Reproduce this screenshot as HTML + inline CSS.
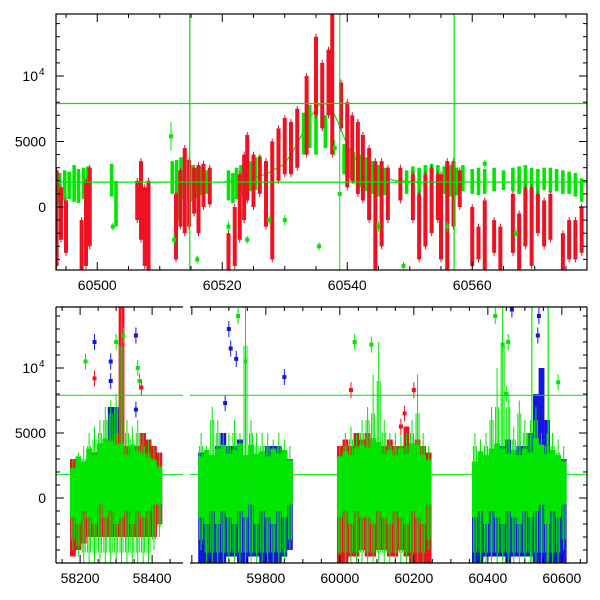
<!DOCTYPE html>
<html><head><meta charset="utf-8"><style>
html,body{margin:0;padding:0;background:#fff;}
svg{display:block;font-family:"Liberation Sans",sans-serif;}
</style></head><body>
<svg id="chart" width="600" height="600" viewBox="0 0 600 600">
<defs>
<clipPath id="clipT"><rect x="56" y="14" width="531" height="256"/></clipPath>
<clipPath id="clipB"><rect x="56" y="307" width="531" height="256"/></clipPath>
</defs>
<g id="topPanel"></g>
<g id="botPanel"></g>
</svg>
<script>
// ---- Top panel data (value in thousands) ----
const topGreenT  = [60494,60494.8,60495.5,60496.3,60497,60497.8,60498.5,60502.3,60503,60512,60512.7,60513.4,60514,60514.7,60515.3,60516,60516.7,60517.5,60521,60521.7,60522.3,60523,60523.8,60524.5,60525.3,60526,60527,60528,60529,60530,60531,60532,60533,60534,60535,60536.5,60539.5,60540.2,60541,60542,60543,60544,60545,60546,60548.5,60549.5,60550.5,60551.5,60552.5,60553.5,60554.5,60555.5,60556.5,60557.5,60558.5,60560,60561,60562,60563.5,60565,60566.5,60567.5,60568.5,60569.5,60570.5,60571.5,60572.5,60573.5,60574.5,60575.5,60576.5,60577.5];
const topGreenLo = [0.2,0.5,0.6,0.4,0.3,0.6,0.2,0.8,-1.5,1.0,-1,0.5,0.8,0.6,0.4,0.7,0.9,1.0,0.5,0.3,0.6,0.8,1.0,1.2,1.3,1.5,1.8,2.2,2.5,2.8,3.0,3.4,4.0,4.5,4.0,4.5,2.5,2.2,1.8,1.5,1.2,1.0,0.8,0.9,0.8,1.0,1.2,0.9,1.1,1.3,1.0,1.0,0.8,0.9,1.2,1.0,0.9,1.0,1.2,1.3,1.2,1.0,1.1,1.2,1.0,1.3,1.1,1.2,1.0,1.0,0.8,0.4];
const topGreenHi = [2.6,2.8,2.7,3.2,2.9,3.0,3.1,3.3,2.0,3.5,3.6,3.8,4.0,3.5,3.2,3.0,3.1,2.8,2.8,2.6,3.0,3.2,3.4,3.5,3.8,3.9,3.5,4.5,5.2,5.5,6.0,6.6,7.2,7.8,7.5,7.0,4.8,4.5,4.2,4.0,3.8,3.5,3.2,3.0,2.9,2.8,3.1,3.0,3.2,3.3,3.2,3.1,3.2,3.0,3.2,2.9,3.0,2.9,3.0,2.8,3.0,3.1,3.2,3.0,2.9,3.0,3.0,2.9,2.8,2.7,2.6,2.2];
const topRedT  = [60493.5,60494.2,60495,60497.5,60498.2,60498.8,60506.4,60507,60507.6,60508.2,60512.6,60513.3,60514,60514.7,60515.5,60516.2,60517,60518,60521,60522,60522.8,60523.5,60524,60525,60526,60527,60528,60529,60530,60531,60532,60533.5,60535,60536,60537,60537.6,60539,60540,60540.8,60541.7,60542.5,60543.5,60544.5,60545.5,60546.5,60548.5,60550.5,60551.5,60552.5,60553.5,60554.5,60555,60556,60557,60558,60560,60561,60562,60563.5,60564.5,60566.5,60567.5,60568.5,60569.5,60570.5,60571.5,60572.5,60574.5,60575.5,60576.5,60577.5];
const topRedLo = [-4.5,-2.5,-3.5,-5,-4.5,-3,-1,-2.5,-4.5,-5,-4,-1.5,-2,-1.5,-0.5,-2,0,0.2,-5,-4.5,-2.5,-1,0.5,0,1,-1.5,-4,2,2.5,2.5,3,4,7,6,7,4,6,1.5,2,1,0.5,-1,-4.8,-3,-1,0.5,-1,-4,-3,-2,-1,-4,-5,-1.5,0,-4.5,-4,-4.8,-3.5,-5,-3.5,-4.8,-3,-4.5,-2,-3,-2.5,-5,-4,-4,-3.5];
const topRedHi = [2.8,1.5,0.5,-1,2.0,3.0,2.0,3.5,1.5,2.0,1,2.8,4.5,3.6,3.0,3.2,3.3,3.0,-2,0,2.5,4.0,5.5,4.0,3.8,3.5,5,6,6.8,6.5,7.5,10,13,11,12,14.7,9.5,8,7,6.5,5.5,4.5,3.5,3.5,3.0,3.0,2.5,1.0,2.5,3.0,2.5,2.5,3.5,3.5,2.8,0,-1.5,0.5,-1,-1.5,1,-0.5,1.5,1.5,1,0.5,1,-2,-1,-1,0];
const topPtT = [60502.5,60511.8,60512.3,60516,60521,60524,60527.5,60530,60535.5,60538.8,60538,60545,60549,60556,60562,60567];
const topPtV = [-1.5,5.4,-2.5,-4,-1.5,-2.5,-1,-1,-3,1,4.5,-1.5,-4.5,-1.5,3.3,-2];
const topPtE = [0.3,1.1,0.5,0.3,0.4,0.3,0.3,0.4,0.3,15,0.6,0.4,0.3,0.4,0.3,0.3];
const modelT = [60520,60524,60527,60530,60532,60534,60535.5,60536.5,60537.5,60538.5,60539.5,60540.5,60542,60544,60546,60548,60552];
const modelV = [1.9,2.1,2.5,3.3,4.8,6.8,7.8,7.9,7.5,6.5,5.3,4.3,3.2,2.6,2.2,2.0,1.9];

// ---- Bottom panel data (binned ranges, thousands) ----
const binT = [58180,58195,58210,58225,58240,58255,58270,58285,58300,58315,58330,58345,58360,58375,58390,58405,58420,
 59625,59640,59655,59670,59685,59700,59715,59730,59745,59760,59775,59790,59805,59820,59835,59850,59865,
 60000,60015,60030,60045,60060,60075,60090,60105,60120,60135,60150,60165,60180,60195,60210,60225,60240,
 60365,60380,60395,60410,60425,60440,60455,60470,60485,60500,60515,60530,60545,60560,60575,60590,60605];
const greenLo = [-1.5,-2,-1,-1.5,-2,-0.5,-1.5,-1,-2,-1.5,-1,-2,-1,-1.5,-1,-0.5,-0.5, -1.5,-2,-1,-2,-1,-1.5,-2,-1,-1.5,-0.5,-2,-1,-1.5,-2,-1,-1.5,-0.5, -1.5,-1,-2,-1,-1.5,-1.5,-2,-1,-1.5,-2,-1,-1.5,-2,-1,-1.5,-2,-0.5, -1.5,-1,-2,-1,-1.5,-2,-1,-1.5,-2,-1,-1.5,-1,-0.5,-2,-1,-1.5,-0.5];
const greenHi = [2.3,3.2,2.8,3.8,3.3,4.2,4.6,4.4,4.1,4.2,3.3,4.1,3.6,3.4,3.1,2.9,2.4, 3.2,3.7,3.3,3.8,4.1,3.4,3.7,4.2,3.3,4.1,3.4,3.6,3.2,3.8,3.4,3.7,2.9, 3.2,3.6,3.3,3.8,4.1,3.9,4.6,4.3,3.4,3.7,3.3,3.8,3.4,4.2,4.1,3.3,2.9, 2.8,3.6,3.3,3.8,4.2,3.8,3.4,3.7,3.3,3.8,3.5,4.6,4.1,3.4,3.7,3.3,2.8];
const greenMin = [-4,-4.5,-5,-5,-5,-5,-5,-5,-5,-5,-5,-5,-5,-5,-5,-4,-3, -4,-5,-5,-5,-5,-5,-5,-5,-5,-5,-5,-5,-5,-5,-5,-5,-4, -5,-5,-5,-5,-5,-5,-5,-5,-5,-5,-5,-5,-5,-5,-5,-5,-4, -5,-5,-5,-5,-5,-5,-5,-5,-5,-5,-5,-5,-5,-5,-5,-5,-4];
const greenMax = [3,3.5,4,5,5.5,6,7,7.5,8,14.7,6,5.5,6,5,4.5,4,3.5, 5,4,7,6,5,5,6,5,14.7,6,5,5,5,4.5,5,4.5,4, 4,5,5.5,5,6,7,9.5,12,6,5,5,5,5,6,9.5,5,4, 5,4.5,5,7,10,14.7,8,5.5,7.5,6,6,7,5,5,5,4.5,4];
const blueLo = [-3,-3,-3,-3,-3,-3,-3,-3,-3,-3,-3,-3,-3,-3,-3,-3,-2, -5,-5,-5,-5,-5,-4.5,-4.5,-5,-5,-4.5,-4.5,-5,-5,-5,-5,-4.5,-4, 0,0,0,0,0,0,0,0,0,0,0,0,0,0,0,0,0, -5,-5,-4.5,-4.5,-4.5,-4.5,-5,-4.5,-4.5,-4.5,-4.5,-5,-5,-5,-5,-5,-5];
const blueHi = [1,1.5,1.5,2,3,3.5,4,7,7,4,3,3,3,3,3,2,2, 3.5,3,3,4,5,4,4,4.5,3,3,3,3.5,4,4,4,3.5,3, 0,0,0,0,0,0,0,0,0,0,0,0,0,0,0,0,0, 2,2.5,3,3,3.5,4,4.5,3.5,4,4,5,8,10,6,3.5,3,3];
const redLo = [-4.5,-4,-3.5,-3,-3,-3,-3,-3,-3,-3,-3,-3,-3,-3,-3,-3,-2, 0,0,0,0,0,0,0,0,0,0,0,0,0,0,0,0,0, -5,-5,-4.5,-4.5,-4,-4.5,-4.5,-4,-4,-4.5,-4.5,-4,-4.5,-5,-5,-5,-5, 0,0,0,0,0,0,0,0,0,0,0,0,0,0,0,0,0];
const redHi = [3,2.5,2.5,3,3.5,4,4,4.5,5,14.7,4,4,4,5,4.5,4,3.5, 0,0,0,0,0,0,0,0,0,0,0,0,0,0,0,0,0, 4,4.5,4,5,4.5,5,4.5,3.5,4,4.5,4,4,5.5,4,4.5,4,3.5, 0,0,0,0,0,0,0,0,0,0,0,0,0,0,0,0,0];
const botPtT = [58215,58240,58240,58285,58285,58300,58320,58355,58355,58360,58365,58370, 59700,59705,59720,59850,59690,59745,59725, 60030,60040,60085,60200,60175,60165, 60420,60440,60455,60465,60450,60590,60535,60538];
const botPtV = [10.5,12,9.2,10.5,9,12,12.5,12.5,6.8,10,9,8.5, 13,11.5,10.7,9.3,7.3,10.5,14, 8.3,12,11.8,8.3,6.5,5.5, 14,11.8,12,14.5,8,8.9,12.5,14];
const botPtC = ["g","b","r","b","b","g","g","b","b","g","g","r", "b","b","b","b","b","g","g", "r","g","g","r","r","r", "g","g","g","b","g","g","b","b"];
const hLinesTop = [7.9,1.9];
const vLinesTop = [60514.8,60557.1];
const hLinesBot = [7.9,1.8];
const vLinesBot = [60519,60563];

const NS="http://www.w3.org/2000/svg";
const G="#00e600", R="#ee1122", B="#1515e0", RE="#b5204a";
function xT(t){return 56+(t-60493.4)*6.25;}
function yT(v){return 207-v*13.1;}
function xB(t){return t<59000?56+(t-58133)*0.36:190+(t-59595)*0.37;}
function yB(v){return 498-v*13;}
function mk(parent,tag,attrs){const e=document.createElementNS(NS,tag);for(const k in attrs)e.setAttribute(k,attrs[k]);parent.appendChild(e);return e;}

const topG=document.getElementById('topPanel'), botG=document.getElementById('botPanel');
const tData=mk(topG,'g',{'clip-path':'url(#clipT)'});


const bData=mk(botG,'g',{'clip-path':'url(#clipB)'});



topGreenT.forEach((t,i)=>{
  const r=mk(tData,'rect',{x:xT(t)-1.8,y:yT(topGreenHi[i]),width:3.6,height:Math.max(2,yT(topGreenLo[i])-yT(topGreenHi[i])),fill:G});
  
  
});
let d=modelT.map((t,i)=>(i?'L':'M')+xT(t)+' '+yT(modelV[i])).join(' ');
const ml=mk(tData,'path',{d:d,stroke:G,fill:'none','stroke-width':1.2});


topRedT.forEach((t,i)=>{
  const x=xT(t),y1=yT(topRedHi[i]),y2=yT(topRedLo[i]);
  const l=mk(tData,'line',{x1:x,x2:x,y1:y1-3,y2:y2+3,stroke:RE,'stroke-width':1});
  
  
  const r=mk(tData,'rect',{x:x-2,y:y1,width:4,height:Math.max(3,y2-y1),fill:R});
  
  
});
topPtT.forEach((t,i)=>{
  const x=xT(t),y=yT(topPtV[i]);
  const l=mk(tData,'line',{x1:x,x2:x,y1:yT(topPtV[i]+topPtE[i]),y2:yT(topPtV[i]-topPtE[i]),stroke:G,'stroke-width':1});
  
  
  const c=mk(tData,'rect',{x:x-2,y:y-2,width:4,height:4,fill:G});
  
  
});
hLinesTop.forEach(v=>{const l=mk(tData,'line',{x1:56,x2:587,y1:yT(v),y2:yT(v),stroke:G,'stroke-width':1.2});
  
  });
vLinesTop.forEach(t=>{const l=mk(tData,'line',{x1:xT(t),x2:xT(t),y1:14,y2:270,stroke:G,'stroke-width':1.2});
  
  });

function bins(lo,hi,col,w,name){
  binT.forEach((t,i)=>{
    if(lo[i]===0&&hi[i]===0)return;
    const y1=yB(hi[i]),y2=yB(lo[i]);
    const r=mk(bData,'rect',{x:xB(t)-w/2,y:y1,width:w,height:y2-y1,fill:col});
    
    
  });
}
bins(blueLo,blueHi,B,5.8,'blue-band');
bins(redLo,redHi,R,5.8,'red-band');
binT.forEach((t,i)=>{
  const x=xB(t);
  [-1.5,0,1.5].forEach(o=>{
    const l=mk(bData,'line',{x1:x+o,x2:x+o,y1:yB(greenMax[i]-(o===0?0:greenMax[i]>8?3:1)),y2:yB(greenMin[i]+(o===0?0:0.8)),stroke:G,'stroke-width':1});
    
    
  });
});
bins(greenLo,greenHi,G,5.8,'green-band');
botPtT.forEach((t,i)=>{
  const col=botPtC[i]==='g'?G:botPtC[i]==='r'?R:B;
  const x=xB(t),y=yB(botPtV[i]);
  const l=mk(bData,'line',{x1:x,x2:x,y1:y-8,y2:y+8,stroke:col,'stroke-width':1});
  
  
  const c=mk(bData,'rect',{x:x-2,y:y-2,width:4,height:4,fill:col});
  
  
});
hLinesBot.forEach(v=>{[[56,183],[190,587]].forEach(s=>{const l=mk(bData,'line',{x1:s[0],x2:s[1],y1:yB(v),y2:yB(v),stroke:G,'stroke-width':1});
  
  });});
vLinesBot.forEach(t=>{const l=mk(bData,'line',{x1:xB(t),x2:xB(t),y1:307,y2:563,stroke:G,'stroke-width':1.2});
  
  });

function line(p,x1,y1,x2,y2,w){return mk(p,'line',{x1,y1,x2,y2,stroke:'#000','stroke-width':w||1});}
function label(p,x,y,s,anchor,name){const e=mk(p,'text',{x,y,'font-size':14,'text-anchor':anchor||'middle',fill:'#000'});e.textContent=s;
  
  return e;}
function yAxis(p,yf){
  for(let v=-4;v<=14;v++){const y=yf(v);const L=v%5===0?8:4;line(p,56,y,56+L,y);line(p,587-L,y,587,y);}
  label(p,46,yf(0)+5,'0','end','y-tick-label');
  label(p,46,yf(5)+5,'5000','end','y-tick-label');
  label(p,38,yf(10)+5,'10','end','y-tick-label');
  const s=mk(p,'text',{x:39,y:yf(10)-1,'font-size':10,fill:'#000'});s.textContent='4';
  
  
}
const tf=mk(topG,'rect',{x:56,y:14,width:531,height:256,fill:'none',stroke:'#000','stroke-width':1.2});


yAxis(topG,yT);
for(let t=60495;t<=60575;t+=5){const x=xT(t);const L=t%20===0?8:4;line(topG,x,270,x,270-L);line(topG,x,14,x,14+L);}
[60500,60520,60540,60560].forEach(t=>label(topG,xT(t),290,String(t),'middle','x-tick-label'));
line(botG,56,307,183,307,1.2);line(botG,190,307,587,307,1.2);
line(botG,56,563,183,563,1.2);line(botG,190,563,587,563,1.2);
line(botG,56,307,56,563,1.2);line(botG,587,307,587,563,1.2);
yAxis(botG,yB);
for(let t=58150;t<=58480;t+=50){const x=xB(t);const L=t%200===0?8:4;line(botG,x,563,x,563-L);line(botG,x,307,x,307+L);}
for(let t=59600;t<=60650;t+=50){const x=xB(t);const L=t%200===0?8:4;line(botG,x,563,x,563-L);line(botG,x,307,x,307+L);}
[58200,58400].forEach(t=>label(botG,xB(t),583,String(t),'middle','x-tick-label'));
[59800,60000,60200,60400,60600].forEach(t=>label(botG,xB(t),583,String(t),'middle','x-tick-label'));
</script>
</body></html>
